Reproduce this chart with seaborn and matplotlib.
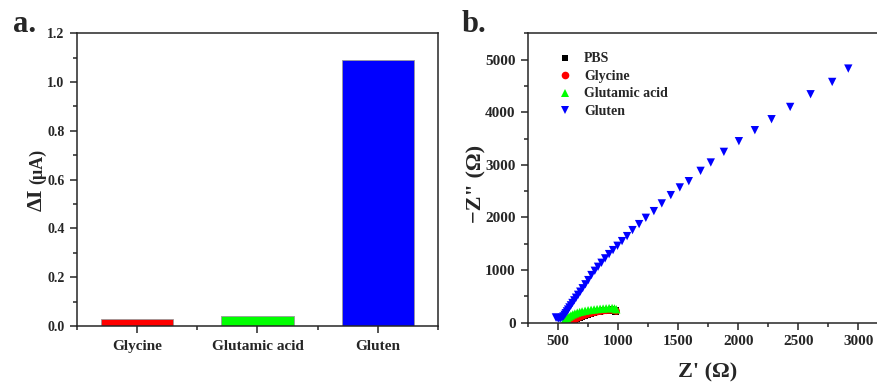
import matplotlib
matplotlib.use("Agg")
import matplotlib.pyplot as plt
from matplotlib.lines import Line2D
from matplotlib.ticker import MultipleLocator, FixedLocator, FormatStrFormatter
import seaborn as sns
import pandas as pd

# ---------------- data ----------------
categories = ["Glycine", "Glutamic acid", "Gluten"]
delta_i = [0.03, 0.04, 1.09]
bar_colors = ["#FF0000", "#00FF00", "#0000FF"]

series_names = ["PBS", "Glycine", "Glutamic acid", "Gluten"]

pbs_zr = [585, 600, 615, 635, 655, 675, 695, 720, 745, 770, 795, 820, 845, 870, 895, 920, 945, 965, 980]
pbs_zi = [0, 18, 38, 62, 86, 107, 126, 146, 165, 181, 195, 207, 218, 227, 234, 239, 241, 236, 222]

gly_zr = [590, 605, 620, 640, 660, 680, 700, 725, 750, 775, 800, 825, 850, 875, 900, 925, 950, 970, 985]
gly_zi = [0, 15, 35, 60, 85, 105, 125, 145, 165, 180, 195, 207, 217, 226, 233, 238, 240, 235, 220]

glu_zr = [545, 555, 565, 578, 592, 607, 623, 640, 660, 680, 700, 725, 750, 775, 800, 825, 850, 875, 900, 925, 950, 970, 985]
glu_zi = [5, 35, 60, 90, 115, 138, 158, 175, 192, 205, 216, 228, 238, 246, 253, 259, 265, 270, 274, 278, 280, 272, 255]

glt_zr = [482, 492, 505, 518, 532, 545, 555, 564, 574, 584, 595, 607, 620, 635, 650, 667, 685, 705, 728, 752,
          778, 806, 833, 862, 892, 925, 958, 995, 1033, 1075, 1120, 1175, 1231, 1298, 1364, 1439, 1514, 1589,
          1687, 1772, 1881, 2006, 2139, 2278, 2433, 2603, 2783, 2917]
glt_zi = [100, 90, 80, 80, 95, 120, 150, 180, 215, 250, 290, 330, 375, 425, 475, 530, 590, 655, 730, 810,
          906, 987, 1063, 1139, 1223, 1304, 1380, 1462, 1551, 1646, 1760, 1874, 1994, 2121, 2267, 2425, 2571, 2690,
          2886, 3045, 3247, 3450, 3659, 3868, 4101, 4342, 4576, 4830]

series_zr = [pbs_zr, gly_zr, glu_zr, glt_zr]
series_zi = [pbs_zi, gly_zi, glu_zi, glt_zi]
series_colors = ["#000000", "#FF0000", "#00FF00", "#0000FF"]
series_markers = ["s", "o", "^", "v"]
series_sizes = [26, 28, 36, 36]

# ---------------- style ----------------
sns.set_style("ticks")
plt.rcParams["font.family"] = ["Liberation Serif", "DejaVu Serif"]
plt.rcParams["font.weight"] = "bold"
plt.rcParams["axes.linewidth"] = 1.1

fig = plt.figure(figsize=(8.78, 3.83), dpi=100)
ax1 = fig.add_axes([0.0877, 0.1488, 0.4111, 0.7642])
ax2 = fig.add_axes([0.6014, 0.1574, 0.4103, 0.7556])

# ---------------- panel a ----------------
df_bar = pd.DataFrame({"cat": categories, "val": delta_i})
sns.barplot(data=df_bar, x="cat", y="val", hue="cat", palette=bar_colors, width=0.6,
            saturation=1, edgecolor="#9a9a9a", linewidth=0.6, legend=False, ax=ax1)
ax1.yaxis.set_major_locator(MultipleLocator(0.2))
ax1.yaxis.set_minor_locator(MultipleLocator(0.1))
ax1.yaxis.set_major_formatter(FormatStrFormatter("%.1f"))
ax1.xaxis.set_minor_locator(FixedLocator([-0.5, 0.5, 1.5, 2.5]))
ax1.set_xlim(-0.5, 2.5)
ax1.set_ylim(0, 1.2)
ax1.set_xlabel("")
ax1.set_ylabel("")
ax1.tick_params(axis="both", which="major", direction="out", length=5, width=1.1, pad=4)
ax1.tick_params(axis="both", which="minor", direction="out", length=3, width=1.1)
ax1.tick_params(axis="y", labelsize=10)
ax1.tick_params(axis="x", labelsize=11, pad=5)
for lab in ax1.get_xticklabels() + ax1.get_yticklabels():
    lab.set_fontweight("bold")
for s in ax1.spines.values():
    s.set_visible(True)
    s.set_linewidth(1.1)

fig.text(0.0478, 1 - 200 / 383, "ΔI", rotation=90, rotation_mode="anchor",
         ha="center", va="baseline", fontsize=16, fontweight="bold")
fig.text(0.0478, 1 - 166 / 383, "(μA)", rotation=90, rotation_mode="anchor",
         ha="center", va="baseline", fontsize=13, fontweight="bold")

# ---------------- panel b ----------------
rows = []
for name, zr, zi in zip(series_names, series_zr, series_zi):
    for a, b in zip(zr, zi):
        rows.append({"series": name, "zr": a, "zi": b})
df_eis = pd.DataFrame(rows)

for name, col, mk, sz in zip(series_names, series_colors, series_markers, series_sizes):
    sub = df_eis[df_eis["series"] == name]
    sns.scatterplot(data=sub, x="zr", y="zi", color=col, marker=mk, s=sz,
                    linewidth=0, edgecolor="none", ax=ax2, legend=False)

ax2.set_xlim(250, 3250)
ax2.set_ylim(0, 5500)
ax2.xaxis.set_major_locator(FixedLocator([500, 1000, 1500, 2000, 2500, 3000]))
ax2.xaxis.set_minor_locator(MultipleLocator(250))
ax2.yaxis.set_major_locator(MultipleLocator(1000))
ax2.yaxis.set_minor_locator(MultipleLocator(500))
ax2.set_xlabel("")
ax2.set_ylabel("")
ax2.tick_params(axis="both", which="major", direction="out", length=5, width=1.1, pad=4, labelsize=11)
ax2.tick_params(axis="both", which="minor", direction="out", length=3, width=1.1)
for lab in ax2.get_xticklabels() + ax2.get_yticklabels():
    lab.set_fontweight("bold")
for s in ax2.spines.values():
    s.set_visible(True)
    s.set_linewidth(1.1)

handles = [Line2D([0], [0], linestyle="none", marker=mk, color=col, markersize=ms, markeredgewidth=0)
           for col, mk, ms in zip(series_colors, series_markers, [5, 5.5, 6, 6])]
ax2.legend(handles, series_names, loc="upper left", bbox_to_anchor=(0.048, 0.977), frameon=False,
           prop={"family": "Liberation Serif", "weight": "bold", "size": 10},
           handlelength=1.0, handletextpad=0.9, labelspacing=0.32, borderpad=0.4)

fig.text(0.548, 1 - 184 / 383, "−Z\" (Ω)", rotation=90, rotation_mode="anchor",
         ha="center", va="baseline", fontsize=16, fontweight="bold")
fig.text(708 / 878, 1 - 377 / 383, "Z' (Ω)", ha="center", va="baseline",
         fontsize=16, fontweight="bold")

# panel letters
fig.text(13 / 878, 1 - 32 / 383, "a.", ha="left", va="baseline", fontsize=22, fontweight="bold")
fig.text(462 / 878, 1 - 32 / 383, "b.", ha="left", va="baseline", fontsize=22, fontweight="bold")

fig.savefig("out.png", dpi=100)
